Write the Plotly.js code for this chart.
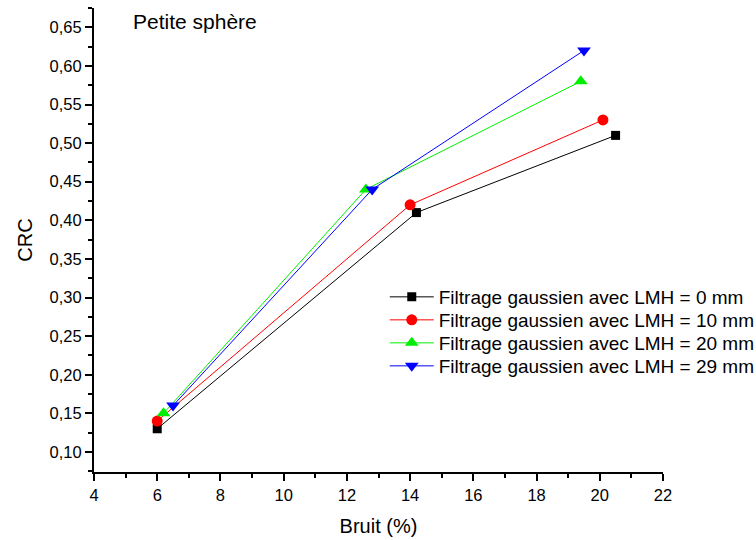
<!DOCTYPE html>
<html><head><meta charset="utf-8">
<script src="https://cdn.plot.ly/plotly-3.0.1.min.js"></script>
<style>body{margin:0;background:#fff}</style>
</head><body>
<div id="chart" style="width:756px;height:540px"></div>
<script>
const names = ["Filtrage gaussien avec LMH = 0 mm","Filtrage gaussien avec LMH = 10 mm","Filtrage gaussien avec LMH = 20 mm","Filtrage gaussien avec LMH = 29 mm"];
const x0 = [6.0, 14.2, 20.5];
const y0 = [0.13, 0.41, 0.51];
const x10 = [6.0, 14.0, 20.1];
const y10 = [0.14, 0.42, 0.53];
const x20 = [6.2, 12.6, 19.4];
const y20 = [0.15, 0.44, 0.58];
const x29 = [6.5, 12.8, 19.5];
const y29 = [0.16, 0.44, 0.62];
const colors = ["#000000","#ff0000","#00ee00","#0000ff"];
const symbols = ["square","circle","triangle-up","triangle-down"];
const sizes = [9,11,12,12];
const xs=[x0,x10,x20,x29], ys=[y0,y10,y20,y29];
const legendIds = ['legend','legend2','legend3','legend4'];
const traces = xs.map((x,i)=>({
  x:x, y:ys[i], name:names[i], type:'scatter', mode:'lines+markers',
  legend:legendIds[i],
  line:{color:colors[i], width:1},
  marker:{color:colors[i], symbol:symbols[i], size:sizes[i]}
}));
const font = {family:'Liberation Sans, Arial, sans-serif', color:'#000'};
const layout = {
  width:756, height:540,
  margin:{l:94, r:93, t:8, b:68, autoexpand:false},
  separators:',.',
  paper_bgcolor:'#fff', plot_bgcolor:'#fff',
  font:Object.assign({size:16}, font),
  showlegend:true,
  xaxis:{range:[4,22], dtick:2, tick0:4, showgrid:false, zeroline:false,
         showline:true, linewidth:2, linecolor:'#000', ticks:'outside', ticklen:7, tickwidth:2, tickcolor:'#000',
         minor:{dtick:1, ticks:'outside', ticklen:4, tickwidth:2, tickcolor:'#000', showgrid:false},
         tickfont:Object.assign({size:16.5}, font),
         title:{text:'Bruit (%)', font:Object.assign({size:20}, font), standoff:16}},
  yaxis:{range:[0.074,0.675], dtick:0.05, tick0:0.1, tickformat:'.2f', showgrid:false, zeroline:false,
         showline:true, linewidth:2, linecolor:'#000', ticks:'outside', ticklen:7, tickwidth:2, tickcolor:'#000',
         minor:{dtick:0.025, ticks:'outside', ticklen:4, tickwidth:2, tickcolor:'#000', showgrid:false},
         tickfont:Object.assign({size:16.5}, font),
         title:{text:'CRC', font:Object.assign({size:20}, font), standoff:12}},
  annotations:[{text:'Petite sphère', xref:'paper', yref:'paper', x:0.065, y:1.0, xanchor:'left', yanchor:'top',
                showarrow:false, font:Object.assign({size:21}, font)}]
};
const rowCenters = [297, 320, 343, 366];
legendIds.forEach((id,i)=>{
  layout[id] = {x:0.511, y:(472-rowCenters[i])/464, xanchor:'left', yanchor:'middle',
    bgcolor:'rgba(0,0,0,0)', font:Object.assign({size:19}, font), itemwidth:44};
});
Plotly.newPlot('chart', traces, layout, {displayModeBar:false});
</script>
</body></html>
